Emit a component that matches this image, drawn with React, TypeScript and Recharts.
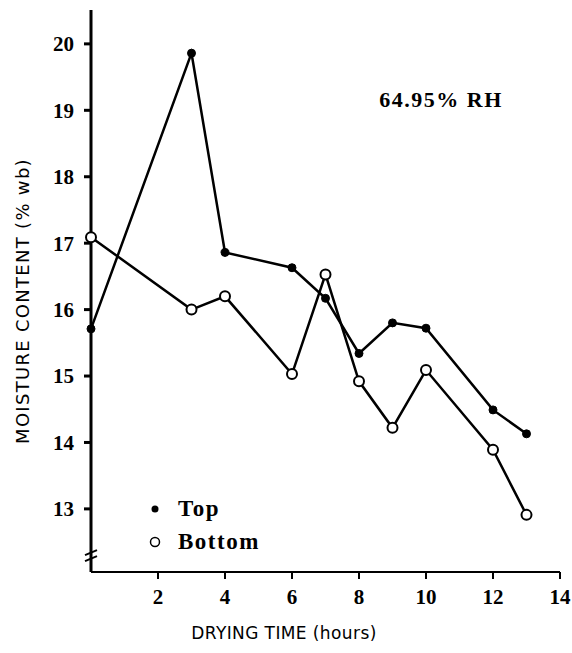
import React from 'react';
import { LineChart, Line, XAxis, YAxis, ReferenceDot } from 'recharts';

const hours = [0, 3, 4, 6, 7, 8, 9, 10, 12, 13];
const topMoisture = [15.71, 19.86, 16.86, 16.63, 16.17, 15.34, 15.8, 15.72, 14.49, 14.13];
const bottomMoisture = [17.09, 16.0, 16.2, 15.03, 16.53, 14.92, 14.22, 15.09, 13.89, 12.91];
const xTicks = [2, 4, 6, 8, 10, 12, 14];
const yTicks = [13, 14, 15, 16, 17, 18, 19, 20];

const data = hours.map((h, i) => ({ hours: h, top: topMoisture[i], bottom: bottomMoisture[i] }));

const tickStyle = { fontFamily: 'Liberation Serif', fontWeight: 'bold', fontSize: 21, fill: '#000' };
const labelFont = 'DejaVu Sans';

const YLabel = (props: any) => {
  const vb = props.viewBox || {};
  const cy = 301;
  const x = 22;
  return (
    <text x={x} y={cy} transform={`rotate(-90 ${x} ${cy})`} textAnchor="middle" dominantBaseline="central"
      fontFamily={labelFont} fontSize={18} letterSpacing={1.3} fill="#000">
      MOISTURE CONTENT (% wb)
    </text>
  );
};

const XLabel = (props: any) => {
  const vb = props.viewBox || {};
  return (
    <text x={284} y={633} textAnchor="middle" dominantBaseline="central"
      fontFamily={labelFont} fontSize={17} letterSpacing={0.4} fill="#000">
      DRYING TIME (hours)
    </text>
  );
};

const BreakMark = (props: any) => {
  const { cx, cy } = props;
  if (cx == null || cy == null) return null;
  return (
    <path d={`M${cx - 6} ${cy - 1} L${cx + 6} ${cy - 6} M${cx - 6} ${cy + 5} L${cx + 6} ${cy}`}
      stroke="#000" strokeWidth={2} fill="none" />
  );
};

const Note = (props: any) => {
  const { cx, cy } = props;
  if (cx == null || cy == null) return null;
  return (
    <text x={cx} y={cy} textAnchor="middle" dominantBaseline="central" fontFamily="Liberation Serif"
      fontSize={22} fontWeight="bold" letterSpacing={1.5} fill="#000">
      64.95% RH
    </text>
  );
};

const LegendBox = () => (
  <div style={{ position: 'absolute', left: 148, top: 492, fontFamily: 'Liberation Serif', fontSize: 23,
    fontWeight: 'bold', lineHeight: '33px', letterSpacing: 1.5 }}>
    <div style={{ display: 'flex', alignItems: 'center' }}>
      <svg width={14} height={14}><circle cx={7} cy={7} r={3.5} fill="#000" /></svg>
      <span style={{ marginLeft: 16 }}>Top</span>
    </div>
    <div style={{ display: 'flex', alignItems: 'center' }}>
      <svg width={14} height={14}><circle cx={7} cy={7} r={4.5} fill="#fff" stroke="#000" strokeWidth={1.5} /></svg>
      <span style={{ marginLeft: 16 }}>Bottom</span>
    </div>
  </div>
);

const App = () => {
  return (
    <div style={{ position: 'absolute', left: 0, top: 0, width: 572, height: 653, background: '#fff' }}>
      <LineChart width={572} height={653} data={data} margin={{ top: 10, right: 12, bottom: 51, left: 41 }}>
        <XAxis dataKey="hours" type="number" domain={[0, 14]} ticks={xTicks} tick={tickStyle}
          stroke="#000" strokeWidth={2} tickSize={7} tickMargin={10} height={30} label={<XLabel />} />
        <YAxis type="number" domain={[12.05, 20.51]} ticks={yTicks} tick={tickStyle} width={50}
          stroke="#000" strokeWidth={3} tickSize={7} tickMargin={10} allowDataOverflow label={<YLabel />} />
        <ReferenceDot x={0} y={12.29} r={0} shape={<BreakMark />} ifOverflow="visible" />
        <ReferenceDot x={10.45} y={19.16} r={0} shape={<Note />} />
        <Line dataKey="top" stroke="#000" strokeWidth={2.5} isAnimationActive={false}
          dot={{ r: 4, fill: '#000', stroke: '#000', strokeWidth: 1 }} />
        <Line dataKey="bottom" stroke="#000" strokeWidth={2.5} isAnimationActive={false}
          dot={{ r: 5, fill: '#fff', stroke: '#000', strokeWidth: 2 }} />
      </LineChart>
      <LegendBox />
    </div>
  );
};

export default App;
